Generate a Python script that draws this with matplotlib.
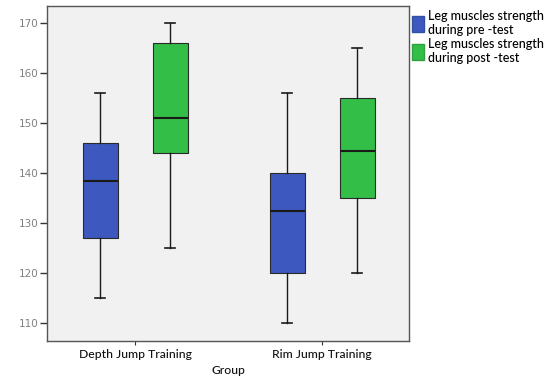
import matplotlib
matplotlib.use("Agg")
import matplotlib.pyplot as plt
from matplotlib.patches import Patch

groups = ["Depth Jump Training", "Rim Jump Training"]
series = ["Leg muscles strength\nduring pre -test", "Leg muscles strength\nduring post -test"]
colors = ["#3D58BE", "#33BE48"]

# five-number summaries: [whislo, q1, median, q3, whishi]
pre_stats = [[115, 127, 138.5, 146, 156], [110, 120, 132.5, 140, 156]]
post_stats = [[125, 144, 151, 166, 170], [120, 135, 144.5, 155, 165]]
yticks = [110, 120, 130, 140, 150, 160, 170]

fig = plt.figure(figsize=(5.49, 3.78), dpi=100)
ax = fig.add_axes([47/549, 1 - 341/378, (409-47)/549, (341-6)/378])
ax.set_facecolor("#F1F1F1")

offset = 0.187
width = 0.187
for si, (stats_list, col) in enumerate([(pre_stats, colors[0]), (post_stats, colors[1])]):
    stats = []
    for s in stats_list:
        stats.append(dict(whislo=s[0], q1=s[1], med=s[2], q3=s[3], whishi=s[4], fliers=[]))
    pos = [i + 1 + (-offset if si == 0 else offset) for i in range(len(groups))]
    ax.bxp(stats, positions=pos, widths=width, patch_artist=True, showfliers=False,
           capwidths=0.05,
           boxprops=dict(facecolor=col, edgecolor="#2a2a2a", linewidth=0.8),
           medianprops=dict(color="#1a1a1a", linewidth=1.5),
           whiskerprops=dict(color="#1a1a1a", linewidth=1.0),
           capprops=dict(color="#1a1a1a", linewidth=1.2))

ax.set_xlim(0.529, 2.465)
ax.set_ylim(106.4, 173.4)
ax.set_xticks([1, 2])
ax.set_xticklabels(groups, fontsize=8.7, family="Lato", fontweight="medium", color="#111111")
ax.set_yticks(yticks)
ax.set_yticklabels([str(v) for v in yticks], fontsize=7.5, color="#808080")
ax.tick_params(axis="y", length=5, width=1.0, color="#333333", pad=1)
ax.tick_params(axis="x", length=3, width=0.8, color="#333333", pad=3)
ax.set_xlabel("Group", fontsize=8.7, family="Lato", fontweight="medium", color="#111111", labelpad=3)
for sp in ax.spines.values():
    sp.set_color("#555555")
    sp.set_linewidth(1.0)

handles = [Patch(facecolor=colors[0], edgecolor="#3050A0"),
           Patch(facecolor=colors[1], edgecolor="#30A040")]
fig.legend(handles, series, loc="upper left", bbox_to_anchor=(409/549, 1 - 8/378),
           frameon=False, prop=dict(family="Lato", size=9, weight="medium"), handlelength=1.0,
           handleheight=1.6, handletextpad=0.3, labelspacing=0.15, borderpad=0.2,
           borderaxespad=0)

fig.savefig("out.png", dpi=100, facecolor="white")
